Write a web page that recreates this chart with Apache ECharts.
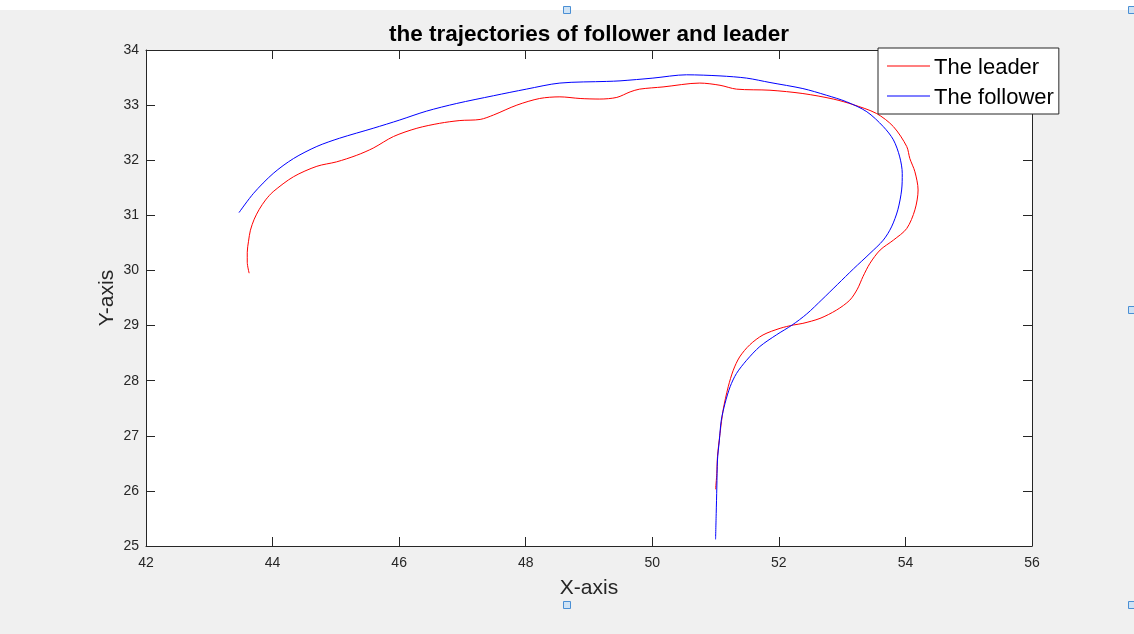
<!DOCTYPE html>
<html>
<head>
<meta charset="utf-8">
<title>the trajectories of follower and leader</title>
<script src="https://cdn.jsdelivr.net/npm/echarts@6/dist/echarts.min.js"></script>
<style>
  html, body { margin: 0; padding: 0; background: #fff; }
  #chart { width: 1134px; height: 634px; }
</style>
</head>
<body>
<div id="chart"></div>
<script>
// Leader path, from its start point near (51, 26) round the loop to the left end
const leaderX = [51.00, 51.02, 51.03, 51.07, 51.12, 51.20, 51.28, 51.38, 51.54, 51.75, 52.02, 52.23, 52.38, 52.65, 52.91, 53.12, 53.24, 53.33, 53.44,
  53.60, 53.81, 54.02, 54.15, 54.20, 54.15, 54.07, 54.02, 53.81, 53.54, 53.17, 52.86, 52.38, 51.86, 51.33, 51.07, 50.75, 50.17, 49.80, 49.65,
  49.44, 49.17, 48.86, 48.54, 48.22, 47.86, 47.49, 47.28, 46.96, 46.64, 46.28, 45.91, 45.59, 45.33, 45.01, 44.70, 44.33, 44.01, 43.89, 43.79,
  43.71, 43.65, 43.62, 43.60, 43.60, 43.63];
const leaderY = [26.03, 26.32, 26.62, 27.04, 27.47, 27.89, 28.19, 28.43, 28.65, 28.83, 28.95, 29.01, 29.04, 29.13, 29.28, 29.46, 29.66, 29.89, 30.13,
  30.37, 30.55, 30.76, 31.10, 31.46, 31.79, 32.03, 32.25, 32.61, 32.85, 33.01, 33.11, 33.21, 33.27, 33.29, 33.36, 33.40, 33.33, 33.29, 33.24,
  33.14, 33.11, 33.12, 33.15, 33.12, 33.00, 32.82, 32.74, 32.72, 32.67, 32.58, 32.43, 32.22, 32.09, 31.97, 31.89, 31.70, 31.43, 31.28, 31.11,
  30.93, 30.73, 30.53, 30.33, 30.15, 29.95];

// Follower path, from its start point near (51, 25.1)
const followerX = [51.00, 51.01, 51.02, 51.03, 51.06, 51.09, 51.15, 51.23, 51.33, 51.49, 51.70, 51.96, 52.21, 52.44, 52.68, 52.93, 53.18, 53.44,
  53.65, 53.78, 53.88, 53.94, 53.95, 53.91, 53.81, 53.65, 53.39, 53.07, 52.75, 52.38, 51.86, 51.49, 51.07, 50.54, 50.01, 49.49, 49.28, 48.54,
  48.01, 47.49, 46.91, 46.43, 46.01, 45.59, 45.06, 44.70, 44.33, 44.01, 43.70, 43.47];
const followerY = [25.12, 25.59, 26.07, 26.56, 26.92, 27.28, 27.59, 27.89, 28.13, 28.37, 28.62, 28.83, 29.01, 29.21, 29.47, 29.75, 30.03, 30.31,
  30.55, 30.79, 31.10, 31.46, 31.76, 32.06, 32.37, 32.61, 32.88, 33.06, 33.18, 33.30, 33.41, 33.49, 33.53, 33.55, 33.49, 33.44, 33.43, 33.40,
  33.29, 33.17, 33.03, 32.89, 32.73, 32.58, 32.40, 32.25, 32.03, 31.76, 31.40, 31.05];

const seriesNames = ['The leader', 'The follower'];
const xTicks = { min: 42, max: 56, step: 2 };
const yTicks = { min: 25, max: 34, step: 1 };

const pairs = (xs, ys) => xs.map((x, i) => [x, ys[i]]);

const FONT = '"Liberation Sans", Arial, Helvetica, sans-serif';
const AXIS_COLOR = '#262626';

const frameAxis = (extra) => Object.assign({
  type: 'value',
  axisLine: { show: true, lineStyle: { color: AXIS_COLOR, width: 1 } },
  axisTick: { show: true, inside: true, length: 9, lineStyle: { color: AXIS_COLOR, width: 1 } },
  splitLine: { show: false },
  axisLabel: { show: false }
}, extra);

// small selection handles on the figure frame
const handle = (cx, cy) => ({
  type: 'rect',
  shape: { x: cx - 3.5, y: cy - 3.5, width: 7, height: 7 },
  style: { fill: '#cfe3f5', stroke: '#4a8fd4', lineWidth: 1 },
  z: 100
});

// legend key: a thin line sitting a little above the middle of its text
const legendKey = 'path://M0,0L43,0L43,1L0,1Z M0,5L0.001,5L0.001,5.001Z';

const chart = echarts.init(document.getElementById('chart'), null, { renderer: 'canvas' });
chart.setOption({
  backgroundColor: '#f0f0f0',
  animation: false,
  textStyle: { fontFamily: FONT },
  title: {
    text: 'the trajectories of follower and leader',
    left: 384,
    top: 18,
    textStyle: { fontFamily: FONT, fontSize: 22.5, fontWeight: 'bold', color: '#000' }
  },
  graphic: [
    { type: 'rect', shape: { x: 0, y: 0, width: 1134, height: 10 }, style: { fill: '#ffffff' }, z: 90 },
    handle(567, 10), handle(1132, 10), handle(1132, 310), handle(567, 605), handle(1132, 605)
  ],
  legend: {
    orient: 'vertical',
    left: 878,
    top: 48,
    padding: [9, 5, 5, 9],
    itemGap: 8,
    itemWidth: 43,
    itemHeight: 6,
    icon: legendKey,
    backgroundColor: '#ffffff',
    borderColor: AXIS_COLOR,
    borderWidth: 1,
    borderRadius: 0,
    textStyle: { fontFamily: FONT, fontSize: 22, color: '#000', lineHeight: 22, padding: [0, 0, 0, -1] },
    data: seriesNames
  },
  grid: {
    left: 146, right: 102, top: 50, bottom: 88,
    show: true, backgroundColor: '#ffffff', borderWidth: 0,
    containLabel: false
  },
  xAxis: [
    frameAxis({
      position: 'bottom',
      min: xTicks.min, max: xTicks.max, interval: xTicks.step,
      name: 'X-axis',
      nameLocation: 'middle',
      nameGap: 32,
      nameTextStyle: { fontFamily: FONT, fontSize: 21, color: AXIS_COLOR },
      axisLabel: { show: true, margin: 10, color: AXIS_COLOR, fontSize: 14, fontFamily: FONT }
    }),
    frameAxis({ position: 'top', min: xTicks.min, max: xTicks.max, interval: xTicks.step })
  ],
  yAxis: [
    frameAxis({
      position: 'left',
      min: yTicks.min, max: yTicks.max, interval: yTicks.step,
      name: 'Y-axis',
      nameLocation: 'middle',
      nameGap: 28,
      nameMoveOverlap: false,
      nameTextStyle: { fontFamily: FONT, fontSize: 21, color: AXIS_COLOR },
      axisLabel: { show: true, margin: 7, color: AXIS_COLOR, fontSize: 14, fontFamily: FONT }
    }),
    frameAxis({ position: 'right', min: yTicks.min, max: yTicks.max, interval: yTicks.step })
  ],
  series: [
    {
      name: seriesNames[0],
      type: 'line',
      data: pairs(leaderX, leaderY),
      symbol: 'none',
      smooth: 0.3,
      lineStyle: { color: '#ff0000', width: 1 },
      itemStyle: { color: '#ff0000' },
      z: 3
    },
    {
      name: seriesNames[1],
      type: 'line',
      data: pairs(followerX, followerY),
      symbol: 'none',
      smooth: 0.3,
      lineStyle: { color: '#0000ff', width: 1 },
      itemStyle: { color: '#0000ff' },
      z: 3
    }
  ]
});
</script>
</body>
</html>
